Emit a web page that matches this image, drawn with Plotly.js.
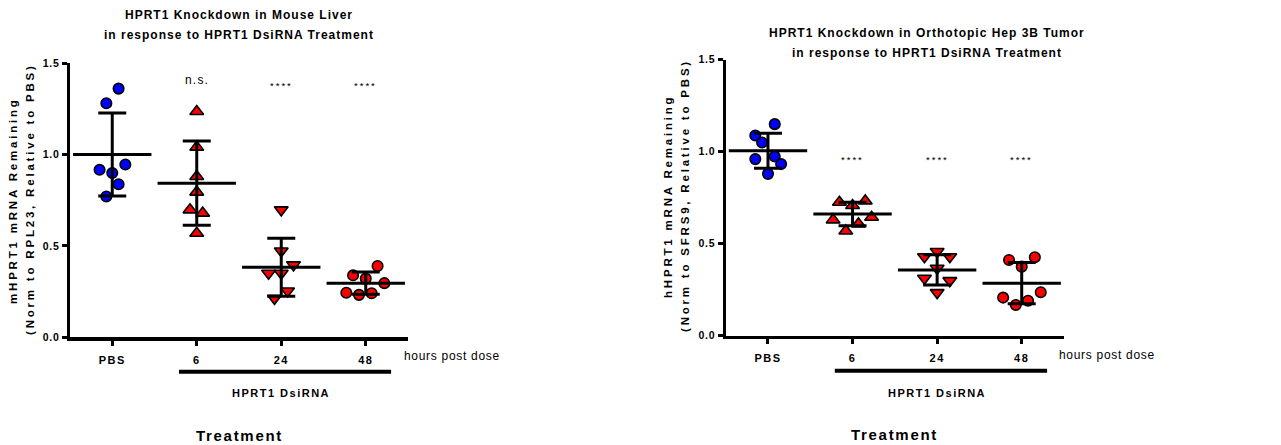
<!DOCTYPE html>
<html><head><meta charset="utf-8">
<script src="https://cdn.plot.ly/plotly-3.0.1.min.js"></script>
<style>html,body{margin:0;padding:0;background:#fff}</style>
</head><body><div id="chart" style="width:1281px;height:445px"></div>
<script>
// ---------- data ----------
const categories = ['PBS', '6', '24', '48'];
const yTickVals = [0, 0.5, 1.0, 1.5];
const yTickText = ['0.0', '0.5', '1.0', '1.5'];
const sigLiver = ['', 'n.s.', '****', '****'];
const sigTumor = ['', '****', '****', '****'];

// Mouse liver (left panel) individual values
const liverPBS = [1.36, 1.28, 0.945, 0.916, 0.898, 0.837, 0.770];
const liver6   = [1.235, 1.04, 0.879, 0.794, 0.697, 0.679, 0.569];
const liver24  = [0.697, 0.472, 0.396, 0.350, 0.350, 0.253, 0.213];
const liver48  = [0.390, 0.339, 0.321, 0.296, 0.244, 0.232, 0.241];
const liverMean = [1.00, 0.843, 0.383, 0.296];
const liverSD   = [0.227, 0.230, 0.158, 0.061];

// Hep 3B tumor (right panel) individual values
const tumorPBS = [1.149, 1.087, 1.049, 0.959, 0.973, 0.932, 0.879];
const tumor6   = [0.725, 0.732, 0.707, 0.629, 0.643, 0.607, 0.569];
const tumor24  = [0.429, 0.457, 0.429, 0.366, 0.312, 0.299, 0.234];
const tumor48  = [0.411, 0.426, 0.375, 0.207, 0.236, 0.190, 0.167];
const tumorMean = [1.004, 0.661, 0.357, 0.285];
const tumorSD   = [0.095, 0.064, 0.082, 0.112];

// horizontal scatter offsets of the dots within each group
const liverJitter = [
  [0.075, -0.07, 0.155, -0.15, 0, 0.075, -0.07],
  [0, 0, 0, 0, -0.08, 0.07, 0],
  [0, 0, 0.145, -0.15, 0, 0.075, -0.08],
  [0.14, -0.15, 0, 0.22, -0.23, -0.08, 0.07]
];
const tumorJitter = [
  [0.08, -0.15, -0.07, -0.15, 0.08, 0.155, 0],
  [-0.155, 0.15, 0, -0.23, 0.225, 0.07, -0.08],
  [-0.15, 0, 0.15, 0, -0.15, 0.15, 0],
  [-0.15, 0.155, 0, -0.22, 0.225, 0.075, -0.07]
];

// ---------- styling ----------
const W = 1281, H = 445;
const FAM = 'Liberation Sans, Arial, sans-serif';
const px = x => x / W;
const py = y => 1 - y / H;
const ls = (t, s) => '<span style="letter-spacing:' + s + 'px">' + t + '</span>';
const groupStyle = [
  {symbol: 'circle', color: '#0000ff', size: 10.5},
  {symbol: 'triangle-up', color: '#ff0000', size: 12},
  {symbol: 'triangle-down', color: '#ff0000', size: 12},
  {symbol: 'circle', color: '#ff0000', size: 10.5}
];

const traces = [];
function addPanel(groups, jit, mean, sd, xa, ya) {
  groups.forEach((vals, g) => {
    const st = groupStyle[g];
    traces.push({
      type: 'scatter', mode: 'markers', xaxis: xa, yaxis: ya,
      x: vals.map((v, i) => g + jit[g][i]), y: vals,
      marker: {symbol: st.symbol, size: st.size, color: st.color, line: {color: '#000', width: 1.6}},
      hoverinfo: 'y', showlegend: false
    });
  });
  traces.push({
    type: 'scatter', mode: 'markers', xaxis: xa, yaxis: ya,
    x: categories.map((c, i) => i), y: mean,
    marker: {symbol: 'line-ew', size: 56, color: '#000', line: {color: '#000', width: 3}},
    error_y: {type: 'data', array: sd, visible: true, color: '#000', thickness: 3, width: 14},
    hoverinfo: 'y', showlegend: false
  });
}
addPanel([liverPBS, liver6, liver24, liver48], liverJitter, liverMean, liverSD, 'x', 'y');
addPanel([tumorPBS, tumor6, tumor24, tumor48], tumorJitter, tumorMean, tumorSD, 'x2', 'y2');

function xAxis(dom, anchor) {
  return {
    domain: dom, anchor: anchor, range: [-0.5, 3.5],
    tickvals: categories.map((c, i) => i), ticktext: categories.map(c => ls(c, 1.5)),
    ticks: 'outside', ticklen: 5, tickwidth: 3, tickcolor: '#000',
    showline: true, linewidth: 3.2, linecolor: '#000',
    showgrid: false, zeroline: false, ticklabelstandoff: 5,
    tickfont: {family: FAM, size: 11, color: '#000', weight: 'bold'}
  };
}
function yAxis(dom, anchor) {
  return {
    domain: dom, anchor: anchor, range: [0, 1.5],
    tickvals: yTickVals, ticktext: yTickText.map(t => ls(t, 0.8)),
    ticks: 'outside', ticklen: 5, tickwidth: 3, tickcolor: '#000',
    showline: true, linewidth: 3.2, linecolor: '#000',
    showgrid: false, zeroline: false,
    tickfont: {family: FAM, size: 10.5, color: '#000', weight: 'bold'}
  };
}

const ann = [];
function txt(text, x, y, size, bold, spacing, extra) {
  ann.push(Object.assign({
    text: ls(text, spacing), x: px(x), y: py(y), xref: 'paper', yref: 'paper',
    showarrow: false, xanchor: 'center', yanchor: 'middle',
    font: {family: FAM, size: size, color: '#000', weight: bold ? 'bold' : 'normal'}
  }, extra || {}));
}
// titles
txt('HPRT1 Knockdown in Mouse Liver', 238.5, 15, 12, true, 1.0);
txt('in response to HPRT1 DsiRNA Treatment', 238.5, 35, 12, true, 1.0);
txt('HPRT1 Knockdown in Orthotopic Hep 3B Tumor', 927, 33.3, 12, true, 1.0);
txt('in response to HPRT1 DsiRNA Treatment', 927, 53.3, 12, true, 1.0);
// y titles
txt('mHPRT1 mRNA Remaining', 13, 201, 11.5, true, 2.8, {textangle: -90});
txt('(Norm to RPL23, Relative to PBS)', 30, 199, 11.5, true, 2.8, {textangle: -90});
txt('hHPRT1 mRNA Remaining', 668, 197, 11.5, true, 2.8, {textangle: -90});
txt('(Norm to SFRS9, Relative to PBS)', 685, 196, 11.5, true, 2.8, {textangle: -90});
// hours post dose
txt('hours post dose', 401.7, 356, 12, false, 0.7, {xanchor: 'left'});
txt('hours post dose', 1057.3, 355, 12, false, 0.7, {xanchor: 'left'});

function panelTexts(xr, sig, sigY, nsY, dsY, trY) {
  sig.forEach((s, i) => {
    if (!s) return;
    const isNS = s === 'n.s.';
    ann.push({
      text: ls(s, isNS ? 1.2 : 2), x: i, xref: xr, y: py(isNS ? nsY : sigY), yref: 'paper',
      showarrow: false, xanchor: 'center', yanchor: 'middle',
      font: {family: FAM, size: isNS ? 12 : 9.5, color: '#000'}
    });
  });
  ann.push({text: ls('HPRT1 DsiRNA', 1.5), x: 2, xref: xr, y: py(dsY), yref: 'paper', showarrow: false,
    xanchor: 'center', yanchor: 'middle', font: {family: FAM, size: 11, color: '#000', weight: 'bold'}});
  ann.push({text: ls('Treatment', 1.7), x: 1.5, xref: xr, y: py(trY), yref: 'paper', showarrow: false,
    xanchor: 'center', yanchor: 'middle', font: {family: FAM, size: 15, color: '#000', weight: 'bold'}});
}
panelTexts('x', sigLiver, 85.2, 80.5, 393.3, 435);
panelTexts('x2', sigTumor, 159.2, 0, 393, 434);

const shapes = [
  {type: 'line', xref: 'x', yref: 'paper', x0: 0.79, x1: 3.30, y0: py(371.7), y1: py(371.7), line: {color: '#000', width: 4}},
  {type: 'line', xref: 'x2', yref: 'paper', x0: 0.79, x1: 3.30, y0: py(370.7), y1: py(370.7), line: {color: '#000', width: 4}}
];

const layout = {
  width: W, height: H, margin: {l: 0, r: 0, t: 0, b: 0},
  paper_bgcolor: '#fff', plot_bgcolor: '#fff', showlegend: false,
  xaxis: xAxis([px(70), px(408)], 'y'),
  yaxis: yAxis([py(337.3), py(63)], 'x'),
  xaxis2: xAxis([px(725.7), px(1064)], 'y2'),
  yaxis2: yAxis([py(335.7), py(59.5)], 'x2'),
  annotations: ann, shapes: shapes
};
Plotly.newPlot('chart', traces, layout, {displayModeBar: false, staticPlot: true});
</script></body></html>
